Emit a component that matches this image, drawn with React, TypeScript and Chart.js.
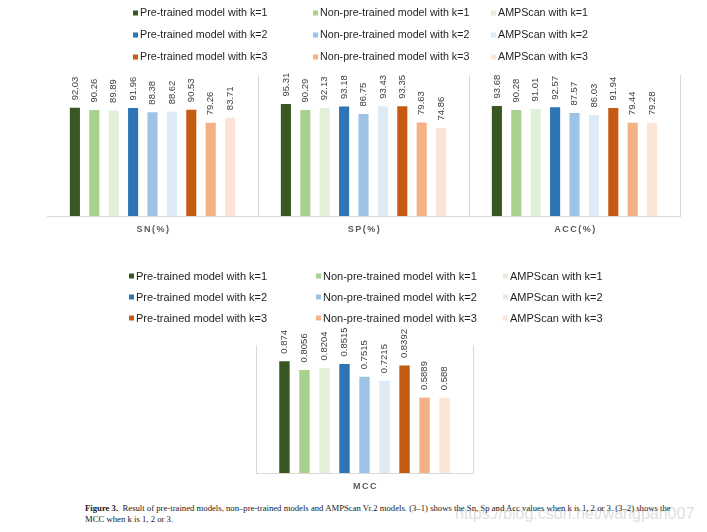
import React, { useEffect, useRef } from 'react';
import { Chart, registerables } from 'chart.js';

Chart.register(...registerables);

const seriesNames = [
  'Pre-trained model with k=1',
  'Non-pre-trained model with k=1',
  'AMPScan with k=1',
  'Pre-trained model with k=2',
  'Non-pre-trained model with k=2',
  'AMPScan with k=2',
  'Pre-trained model with k=3',
  'Non-pre-trained model with k=3',
  'AMPScan with k=3',
];

const topCategories = ['SN(%)', 'SP(%)', 'ACC(%)'];
const bottomCategories = ['MCC'];

const snValues = [92.03, 90.26, 89.89, 91.96, 88.38, 88.62, 90.53, 79.26, 83.71];
const spValues = [95.31, 90.29, 92.13, 93.18, 86.75, 93.43, 93.35, 79.63, 74.86];
const accValues = [93.68, 90.28, 91.01, 92.57, 87.57, 86.03, 91.94, 79.44, 79.28];
const mccValues = [0.874, 0.8056, 0.8204, 0.8515, 0.7515, 0.7215, 0.8392, 0.5889, 0.588];

const seriesColors = [
  '#385723', '#A9D18E', '#E2F0D9',
  '#2E75B6', '#9DC3E6', '#DEEBF7',
  '#C55A11', '#F4B183', '#FBE5D6',
];

const SANS = '"Liberation Sans", Arial, sans-serif';

const customPlugin = {
  id: 'custom',
  afterDraw(chart: any, _args: any, opts: any) {
    const ctx = chart.ctx as CanvasRenderingContext2D;
    ctx.save();
    // legend grid
    ctx.font = `${opts.legendFontSize}px ${SANS}`;
    ctx.textBaseline = 'middle';
    ctx.textAlign = 'left';
    chart.data.datasets.forEach((ds: any, i: number) => {
      const col = i % 3;
      const row = Math.floor(i / 3);
      const x = opts.legendCols[col];
      const y = opts.legendRows[row];
      ctx.fillStyle = ds.backgroundColor;
      ctx.fillRect(x, y - 2.5, 5, 5);
      ctx.fillStyle = '#1f1f1f';
      ctx.fillText(ds.label, x + 7, y + 0.5);
    });
    // value labels
    ctx.font = `9.5px ${SANS}`;
    ctx.fillStyle = '#404040';
    chart.data.datasets.forEach((ds: any, i: number) => {
      const meta = chart.getDatasetMeta(i);
      meta.data.forEach((el: any, j: number) => {
        ctx.save();
        ctx.translate(el.x, el.y - 7.5);
        ctx.rotate(-Math.PI / 2);
        ctx.textAlign = 'left';
        ctx.textBaseline = 'middle';
        ctx.fillText(String(ds.data[j]), 0, 0);
        ctx.restore();
      });
    });
    // category labels
    const xs = chart.scales.x;
    ctx.font = `bold 9px ${SANS}`;
    (ctx as any).letterSpacing = '1.5px';
    ctx.fillStyle = '#595959';
    ctx.textAlign = 'center';
    ctx.textBaseline = 'middle';
    chart.data.labels.forEach((lab: string, i: number) => {
      ctx.fillText(lab, xs.getPixelForValue(i) + 1, chart.chartArea.bottom + 13.5);
    });
    (ctx as any).letterSpacing = '0px';
    ctx.restore();
  },
};

function buildDatasets(columns: number[][]) {
  return seriesNames.map((name, i) => ({
    label: name,
    data: columns.map((col) => col[i]),
    backgroundColor: seriesColors[i],
    borderWidth: 0,
  }));
}

function makeOptions(pad: any, yMax: number, hideFirstGrid: boolean, legend: any, catPct: number, barPct: number) {
  return {
    animation: false,
    responsive: false,
    maintainAspectRatio: false,
    events: [],
    layout: { padding: pad },
    datasets: { bar: { categoryPercentage: catPct, barPercentage: barPct } },
    plugins: {
      legend: { display: false },
      tooltip: { enabled: false },
      custom: legend,
    },
    scales: {
      x: {
        ticks: { display: false },
        grid: {
          offset: true,
          drawTicks: false,
          lineWidth: 1,
          color: (c: any) => (hideFirstGrid && c.index === 0 ? 'rgba(0,0,0,0)' : '#d9d9d9'),
        },
        border: { color: '#d9d9d9', width: 1 },
      },
      y: { display: false, min: 0, max: yMax },
    },
  };
}

function TopChart() {
  const ref = useRef<HTMLCanvasElement>(null);
  useEffect(() => {
    const chart = new Chart(ref.current!, {
      type: 'bar',
      data: {
        labels: topCategories,
        datasets: buildDatasets([snValues, spValues, accValues]),
      },
      options: makeOptions(
        { left: 47, right: 27, top: 75, bottom: 29 },
        120,
        true,
        { legendCols: [133, 313, 491], legendRows: [13, 35, 57], legendFontSize: 10.7 },
        0.8275,
        0.52
      ) as any,
      plugins: [customPlugin],
    });
    return () => chart.destroy();
  }, []);
  return (
    <canvas
      ref={ref}
      width={707}
      height={245}
      style={{ position: 'absolute', left: 0, top: 0, width: 707, height: 245 }}
    />
  );
}

function BottomChart() {
  const ref = useRef<HTMLCanvasElement>(null);
  useEffect(() => {
    const chart = new Chart(ref.current!, {
      type: 'bar',
      data: {
        labels: bottomCategories,
        datasets: buildDatasets([mccValues]),
      },
      options: makeOptions(
        { left: 256, right: 234, top: 95, bottom: 27 },
        1,
        false,
        { legendCols: [129, 316, 503], legendRows: [26, 47, 68], legendFontSize: 11 },
        0.83,
        0.52
      ) as any,
      plugins: [customPlugin],
    });
    return () => chart.destroy();
  }, []);
  return (
    <canvas
      ref={ref}
      width={707}
      height={250}
      style={{ position: 'absolute', left: 0, top: 250, width: 707, height: 250 }}
    />
  );
}

export default function App() {
  return (
    <div
      style={{
        position: 'absolute',
        left: 0,
        top: 0,
        width: 707,
        height: 532,
        background: '#ffffff',
        overflow: 'hidden',
      }}
    >
      <TopChart />
      <BottomChart />
      <div
        style={{
          position: 'absolute',
          left: 455,
          top: 505,
          fontFamily: SANS,
          fontSize: 16,
          color: 'rgba(205,205,205,0.65)',
          whiteSpace: 'nowrap',
          lineHeight: '18px',
        }}
      >
        https://blog.csdn.net/wangpan007
      </div>
      <div
        style={{
          position: 'absolute',
          left: 85,
          top: 503,
          fontFamily: '"Liberation Serif", "DejaVu Serif", serif',
          fontSize: 8.7,
          lineHeight: '11px',
          color: '#1a1a1a',
          whiteSpace: 'nowrap',
        }}
      >
        <b>Figure 3.</b>&nbsp; Result of pre-trained models, non–pre-trained models and AMPScan Vr.2 models. (3–1) shows the Sn, Sp and Acc values when k is 1, 2 or 3. (3–2) shows the
        <br />
        MCC when k is 1, 2 or 3.
      </div>
    </div>
  );
}
